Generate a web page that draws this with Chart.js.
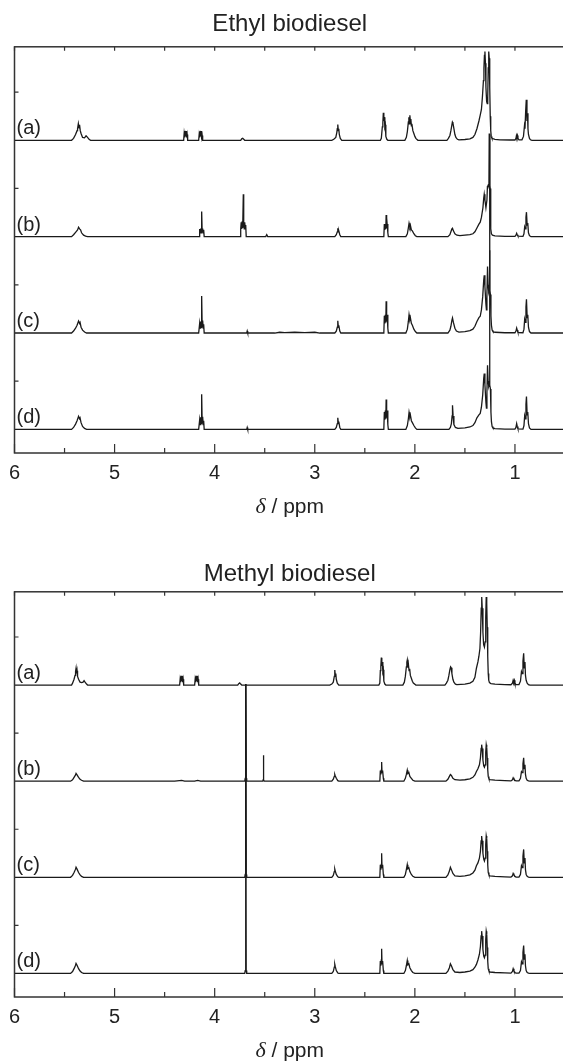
<!DOCTYPE html>
<html>
<head>
<meta charset="utf-8">
<title>Biodiesel 1H NMR</title>
<script src="https://cdn.jsdelivr.net/npm/chart.js@4.4.1/dist/chart.umd.min.js"></script>
<style>
  html, body { margin: 0; padding: 0; background: #fff; overflow: hidden; }
  .panel { position: absolute; left: 0; width: 563px; overflow: hidden; }
  #p1 { top: 0; height: 518px; }
  #p2 { top: 545px; height: 517px; }
</style>
</head>
<body>
<div class="panel" id="p1"><canvas id="grafEtil" width="575" height="518"></canvas></div>
<div class="panel" id="p2"><canvas id="grafMetil" width="575" height="517"></canvas></div>
<script>
// Espectros 1H RMN de biodiesel etilico y metilico
// cada punto: [ppm, intensidad]
var etiquetas = ['(a)', '(b)', '(c)', '(d)'];
var ejeX = [6, 5, 4, 3, 2, 1];
var marcasX = [6, 5.5, 5, 4.5, 4, 3.5, 3, 2.5, 2, 1.5, 1];
var marcasY = [50, 150, 250, 350];

var etilA = [[6.0,0],[5.43,0],[5.41,2],[5.39,6],[5.375,10],[5.37,12],[5.362,17.4],[5.355,13],[5.35,16],[5.343,10],[5.335,7],[5.32,3],[5.30,2.5],[5.285,4.6],[5.27,3],[5.255,1],[5.24,0],
  [4.31,0],[4.305,7],[4.30,3],[4.295,9.7],[4.29,4],[4.285,9.5],[4.28,3],[4.275,6],[4.27,0],
  [4.16,0],[4.155,6],[4.15,3],[4.145,9.7],[4.14,4],[4.135,9.5],[4.13,3],[4.125,5],[4.12,0],
  [3.74,0],[3.73,1.5],[3.72,2],[3.71,1],[3.70,0],
  [2.83,0],[2.81,1],[2.79,3],[2.78,8],[2.775,12],[2.77,16.3],[2.765,10],[2.76,12],[2.755,6],[2.745,2],[2.73,0],
  [2.345,0],[2.335,2],[2.325,14],[2.32,18],[2.315,28.5],[2.31,20],[2.305,24],[2.30,14],[2.295,16],[2.29,4],[2.28,1],[2.27,0],
  [2.10,0],[2.085,3],[2.075,9],[2.065,19],[2.06,24],[2.055,17],[2.05,26],[2.045,20],[2.04,22],[2.035,15],[2.03,17],[2.02,10],[2.01,7],[2.0,4],[1.99,2],[1.97,0],
  [1.68,0],[1.665,2],[1.65,5],[1.64,10],[1.63,16],[1.625,19],[1.62,18],[1.61,12],[1.60,6],[1.59,3],[1.575,1],[1.56,0.5],[1.50,0.8],[1.45,1.5],[1.42,3],[1.40,6],[1.38,12],[1.36,20],[1.347,26],[1.335,32],[1.325,45],[1.315,62],[1.31,75],[1.305,88],[1.30,92],[1.295,80],[1.29,55],[1.283,40],[1.277,38],[1.272,45],[1.267,75],[1.262,92],[1.257,85],[1.252,55],[1.247,25],[1.242,10],[1.237,4],[1.23,2],[1.20,1],[1.15,0.5],[1.05,0.3],
  [1.0,0.3],[0.99,2],[0.985,5],[0.98,3],[0.975,5],[0.97,2],[0.96,0.5],
  [0.93,0.5],[0.915,4],[0.905,15],[0.90,12],[0.893,30],[0.887,42],[0.88,20],[0.875,28],[0.87,12],[0.865,6],[0.855,2],[0.845,0.5],[0.83,0],[0.5,0]];

var etilB = [[6.0,0],[5.43,0],[5.41,2],[5.39,4.5],[5.37,7],[5.36,9.8],[5.35,8],[5.34,7],[5.33,4],[5.31,1.5],[5.29,0.5],[5.27,0],
  [4.155,0],[4.15,8],[4.145,4],[4.14,8.5],[4.135,4],[4.13,26],[4.125,5],[4.12,8.5],[4.115,4],[4.11,7],[4.105,0],
  [3.745,0],[3.74,8],[3.735,15],[3.73,8],[3.725,16],[3.72,9],[3.714,44],[3.71,15],[3.705,8],[3.70,15],[3.695,9],[3.69,12],[3.685,0],
  [3.49,0],[3.48,2],[3.47,0],
  [2.80,0],[2.785,2],[2.775,5],[2.77,8.7],[2.765,5],[2.76,6],[2.75,2],[2.74,0],
  [2.31,0],[2.305,13],[2.30,7],[2.295,13],[2.29,8],[2.287,22.5],[2.282,9],[2.277,13],[2.27,4],[2.265,0],
  [2.09,0],[2.075,3],[2.065,9],[2.058,13.8],[2.05,10],[2.045,12],[2.035,7],[2.025,6],[2.01,3],[1.995,1],[1.98,0],
  [1.67,0],[1.65,2],[1.64,5],[1.63,8],[1.624,8.7],[1.615,6],[1.60,3],[1.58,1.5],[1.55,1],[1.50,1.5],[1.45,2],[1.42,3],[1.40,5],[1.38,9],[1.36,13],[1.347,15],[1.335,20],[1.32,30],[1.312,40],[1.307,44],[1.30,38],[1.29,30],[1.28,38],[1.275,52],[1.27,53],[1.265,54],[1.26,52],[1.257,107],[1.252,53],[1.248,50],[1.244,20],[1.24,8],[1.235,3],[1.225,1.5],[1.20,0.8],[1.10,0.3],
  [1.0,0.3],[0.99,1.5],[0.983,3.5],[0.977,2],[0.97,0.5],
  [0.92,0.3],[0.91,3],[0.903,10],[0.897,8],[0.89,20],[0.885,25.4],[0.878,12],[0.872,14],[0.865,4],[0.855,1],[0.84,0],[0.5,0]];

var etilC = [[6.0,0],[5.43,0],[5.41,2],[5.39,5],[5.375,8],[5.36,12.5],[5.35,10],[5.345,11],[5.335,6],[5.32,3],[5.30,1],[5.28,0],
  [4.16,0],[4.15,10],[4.145,5],[4.14,12],[4.135,6],[4.13,38.5],[4.125,7],[4.12,13],[4.115,5],[4.11,9],[4.105,0],
  [3.68,0],[3.675,2],[3.67,0],
  [3.40,0],[3.35,0.8],[3.30,0.4],[3.20,0.8],[3.10,0.5],[3.0,0.8],[2.95,0],
  [2.80,0],[2.785,2],[2.775,6],[2.77,12.8],[2.765,7],[2.76,8],[2.75,2],[2.74,0],
  [2.31,0],[2.305,18],[2.30,10],[2.295,19],[2.29,11],[2.287,33],[2.282,12],[2.277,19],[2.27,5],[2.265,0],
  [2.09,0],[2.075,4],[2.065,12],[2.058,19],[2.05,14],[2.045,16],[2.035,10],[2.025,8],[2.01,4],[1.995,1.5],[1.98,0],
  [1.67,0],[1.65,3],[1.64,7],[1.63,13],[1.624,15.6],[1.615,11],[1.60,5],[1.585,2],[1.56,1],[1.50,1.5],[1.45,2.5],[1.42,4],[1.40,7],[1.38,12],[1.36,16],[1.347,17.4],[1.335,24],[1.322,38],[1.312,55],[1.307,60],[1.30,48],[1.29,30],[1.285,24],[1.28,40],[1.274,69],[1.268,50],[1.262,43],[1.257,45],[1.254,206],[1.25,44],[1.245,40],[1.24,18],[1.235,8],[1.228,3],[1.22,1.5],[1.20,0.8],[1.10,0.3],
  [1.0,0.3],[0.99,2],[0.983,5.2],[0.977,3],[0.97,0.5],
  [0.92,0.3],[0.91,4],[0.903,14],[0.897,11],[0.89,27],[0.885,35],[0.878,16],[0.872,19],[0.865,6],[0.855,1.5],[0.84,0],[0.5,0]];

var etilD = [[6.0,0],[5.43,0],[5.41,2],[5.39,5.5],[5.375,9],[5.36,13.5],[5.35,11],[5.345,12],[5.335,7],[5.32,3],[5.30,1],[5.28,0],
  [4.16,0],[4.15,10],[4.145,5],[4.14,12.5],[4.135,6],[4.13,36.5],[4.125,7],[4.12,13],[4.115,5],[4.11,9],[4.105,0],
  [3.68,0],[3.675,2],[3.67,0],
  [2.80,0],[2.785,2],[2.775,6],[2.77,12],[2.765,7],[2.76,8],[2.75,2],[2.74,0],
  [2.31,0],[2.305,18],[2.30,10],[2.295,19.5],[2.29,11],[2.287,31],[2.282,12],[2.277,19.5],[2.27,5],[2.265,0],
  [2.09,0],[2.075,4],[2.065,11],[2.058,17.7],[2.05,13],[2.045,15],[2.035,9],[2.025,7],[2.01,4],[1.995,1.5],[1.98,0],
  [1.66,0],[1.645,2],[1.635,6],[1.628,14],[1.624,25],[1.618,14],[1.61,5],[1.595,2],[1.57,1],[1.50,1.5],[1.45,2.5],[1.42,4],[1.40,7],[1.38,12],[1.36,15],[1.347,16.6],[1.335,23],[1.322,36],[1.312,53],[1.307,58],[1.30,46],[1.29,28],[1.285,22],[1.28,38],[1.274,66.5],[1.268,50],[1.262,45],[1.257,47],[1.254,186],[1.25,46],[1.245,42],[1.24,18],[1.235,8],[1.228,3],[1.22,1.5],[1.20,0.8],[1.10,0.3],
  [1.0,0.3],[0.99,2],[0.983,6],[0.977,3],[0.97,0.5],
  [0.92,0.3],[0.91,4],[0.903,14],[0.897,11],[0.89,26],[0.885,34],[0.878,15],[0.872,18],[0.865,6],[0.855,1.5],[0.84,0],[0.5,0]];

var metilA = [[6.0,0],[5.43,0],[5.42,2],[5.405,6],[5.395,10],[5.39,14],[5.385,17.4],[5.38,12],[5.375,15],[5.37,9],[5.36,6],[5.345,3],[5.33,2.5],[5.315,3],[5.305,4.5],[5.295,3],[5.28,1],[5.27,0],
  [4.35,0],[4.345,6],[4.34,3],[4.335,9.7],[4.33,4],[4.325,9.5],[4.32,3],[4.315,6],[4.31,0],
  [4.20,0],[4.195,6],[4.19,3],[4.185,9.7],[4.18,4],[4.175,9.5],[4.17,3],[4.165,6],[4.16,0],
  [3.77,0],[3.76,1.5],[3.75,2.2],[3.74,1],[3.73,0],
  [2.85,0],[2.83,1],[2.815,3],[2.805,9],[2.80,15.6],[2.795,10],[2.79,12],[2.785,6],[2.775,2],[2.76,0],
  [2.36,0],[2.35,2],[2.345,15],[2.34,19],[2.335,28.5],[2.33,20],[2.325,24],[2.32,14],[2.315,16],[2.31,4],[2.30,1],[2.29,0],
  [2.12,0],[2.105,3],[2.095,9],[2.085,19],[2.08,24],[2.076,26],[2.07,18],[2.065,22],[2.058,15],[2.052,17],[2.045,10],[2.035,7],[2.025,4],[2.015,2],[1.99,0],
  [1.70,0],[1.685,2],[1.67,5],[1.66,10],[1.65,16],[1.643,19],[1.637,18],[1.63,12],[1.62,6],[1.61,3],[1.595,1],[1.58,0.5],[1.50,1],[1.45,2],[1.42,4],[1.40,8],[1.385,17.5],[1.37,24],[1.36,30],[1.35,38],[1.343,55],[1.337,80],[1.332,91.5],[1.327,80],[1.32,55],[1.313,42],[1.305,39.5],[1.298,45],[1.292,70],[1.287,91.5],[1.282,85],[1.277,60],[1.272,30],[1.267,12],[1.262,5],[1.255,2.5],[1.24,1.5],[1.20,1],[1.10,0.5],
  [1.04,0.3],[1.025,2],[1.018,5],[1.012,3],[1.006,5],[1.0,2],[0.99,0.5],
  [0.96,0.5],[0.945,4],[0.935,14],[0.928,12],[0.92,25],[0.913,33],[0.907,18],[0.90,24],[0.895,10],[0.888,5],[0.878,2],[0.865,0.5],[0.85,0],[0.5,0]];

var metilB = [[6.0,0],[5.44,0],[5.42,1.5],[5.405,4],[5.39,6.5],[5.385,8],[5.375,6.5],[5.36,4],[5.345,2],[5.33,1],[5.31,0],
  [4.40,0],[4.33,0.8],[4.30,0],[4.20,0],[4.17,0.8],[4.14,0],
  [3.70,0],[3.695,3],[3.69,101],[3.685,3],[3.68,0],
  [3.52,0],[3.515,1.5],[3.513,27],[3.51,1.5],[3.505,0],
  [2.83,0],[2.815,2],[2.805,5],[2.80,7],[2.795,5.5],[2.785,3],[2.77,0.5],[2.76,0],
  [2.35,0],[2.345,11],[2.34,7],[2.335,11.5],[2.332,20],[2.328,9],[2.322,11],[2.315,3],[2.31,0],
  [2.11,0],[2.095,3],[2.085,7],[2.076,11.5],[2.07,8],[2.06,9],[2.05,5],[2.035,3],[2.02,1],[2.0,0],
  [1.69,0],[1.67,2],[1.655,5],[1.645,7],[1.635,6],[1.62,3],[1.60,1.5],[1.55,1],[1.50,1.5],[1.45,2.5],[1.42,4],[1.40,6.5],[1.385,10],[1.37,13],[1.355,17],[1.345,24],[1.338,34],[1.333,38],[1.328,34],[1.32,22],[1.312,16],[1.305,14.5],[1.298,17],[1.292,30],[1.287,38],[1.282,35],[1.277,24],[1.272,12],[1.267,5],[1.26,2.5],[1.25,1.5],[1.20,1],[1.10,0.5],
  [1.04,0.3],[1.025,1.5],[1.018,3.5],[1.01,2],[1.0,1],[0.99,0.3],
  [0.96,0.3],[0.945,3],[0.935,10],[0.928,9],[0.92,18],[0.913,24.3],[0.907,13],[0.90,17],[0.895,7],[0.888,3],[0.878,1],[0.865,0.3],[0.85,0],[0.5,0]];

var metilC = [[6.0,0],[5.44,0],[5.42,2],[5.405,5],[5.39,8.5],[5.385,10.4],[5.375,8.5],[5.36,5],[5.345,2.5],[5.33,1],[5.31,0],
  [3.70,0],[3.695,3],[3.69,201],[3.685,3],[3.68,0],
  [2.83,0],[2.815,2],[2.805,6],[2.80,8.6],[2.795,6.5],[2.785,3],[2.77,0.5],[2.76,0],
  [2.35,0],[2.345,13],[2.34,8],[2.335,13.5],[2.332,25],[2.328,10],[2.322,13],[2.315,3],[2.31,0],
  [2.11,0],[2.095,3],[2.085,8],[2.076,13.2],[2.07,9],[2.06,10],[2.05,6],[2.035,3],[2.02,1],[2.0,0],
  [1.69,0],[1.67,2.5],[1.655,6.5],[1.645,10.4],[1.635,8],[1.62,4],[1.60,1.5],[1.55,1],[1.50,1.5],[1.45,2.5],[1.42,4.5],[1.40,7.5],[1.385,12],[1.37,15],[1.355,20],[1.345,27],[1.338,38],[1.333,43],[1.328,38],[1.32,25],[1.312,19],[1.305,17],[1.298,20],[1.292,34],[1.287,43],[1.282,40],[1.277,27],[1.272,13],[1.267,5],[1.26,2.5],[1.25,1.5],[1.20,1],[1.10,0.5],
  [1.04,0.3],[1.025,1.5],[1.018,4],[1.01,2.5],[1.0,1],[0.99,0.3],
  [0.96,0.3],[0.945,3],[0.935,12],[0.928,10],[0.92,22],[0.913,29],[0.907,15],[0.90,20],[0.895,8],[0.888,3],[0.878,1],[0.865,0.3],[0.85,0],[0.5,0]];

var metilD = [[6.0,0],[5.44,0],[5.42,2],[5.405,5],[5.39,8.5],[5.385,10.4],[5.375,8.5],[5.36,5],[5.345,2.5],[5.33,1],[5.31,0],
  [3.70,0],[3.695,3],[3.69,301],[3.685,3],[3.68,0],
  [2.83,0],[2.815,2],[2.805,6.5],[2.80,9.4],[2.795,7],[2.785,3],[2.77,0.5],[2.76,0],
  [2.35,0],[2.345,13],[2.34,8],[2.335,14],[2.332,25.7],[2.328,10],[2.322,13],[2.315,3],[2.31,0],
  [2.11,0],[2.095,3],[2.085,8],[2.076,13.5],[2.07,9],[2.06,10],[2.05,6],[2.035,3],[2.02,1],[2.0,0],
  [1.69,0],[1.67,2.5],[1.655,6],[1.645,10],[1.635,8],[1.62,4],[1.60,1.5],[1.55,1],[1.50,1.5],[1.45,2.5],[1.42,4],[1.40,6.5],[1.385,9.4],[1.37,14],[1.355,20],[1.345,28],[1.338,39],[1.333,44],[1.328,39],[1.32,25],[1.312,18],[1.305,16.3],[1.298,19],[1.292,35],[1.287,44],[1.282,41],[1.277,27],[1.272,13],[1.267,5],[1.26,2.5],[1.25,1.5],[1.20,1],[1.10,0.5],
  [1.04,0.3],[1.025,2],[1.018,4.9],[1.01,2.5],[1.0,1],[0.99,0.3],
  [0.96,0.3],[0.945,3],[0.935,12],[0.928,10],[0.92,22],[0.913,29],[0.907,15],[0.90,20],[0.895,8],[0.888,3],[0.878,1],[0.865,0.3],[0.85,0],[0.5,0]];

var fuente = "'Liberation Sans', Arial, Helvetica, sans-serif";
var desplazamientos = [300, 200, 100, 0];

// Dibuja marco, marcas hacia adentro, etiquetas (a)-(d) y titulo del eje x
var marcoPlugin = {
    id: 'marco',
    afterDraw: function (chart) {
        var ctx = chart.ctx;
        var area = chart.chartArea;
        var sx = chart.scales.x;
        var sy = chart.scales.y;
        ctx.save();
        ctx.strokeStyle = '#333';
        ctx.lineWidth = 1.5;
        ctx.strokeRect(area.left, area.top, area.right - area.left, area.bottom - area.top);
        ctx.lineWidth = 1.2;
        ctx.beginPath();
        marcasX.forEach(function (v) {
            var px = sx.getPixelForValue(v);
            var largo = (v % 1 === 0) ? 9 : 5;
            ctx.moveTo(px, area.bottom);
            ctx.lineTo(px, area.bottom - largo);
            ctx.moveTo(px, area.top);
            ctx.lineTo(px, area.top + 4);
        });
        marcasY.forEach(function (v) {
            var py = sy.getPixelForValue(v);
            ctx.moveTo(area.left, py);
            ctx.lineTo(area.left + 4, py);
        });
        ctx.stroke();

        ctx.fillStyle = '#222';
        ctx.font = '20px ' + fuente;
        ctx.textAlign = 'left';
        ctx.textBaseline = 'alphabetic';
        etiquetas.forEach(function (t, i) {
            var py = sy.getPixelForValue(desplazamientos[i]);
            ctx.fillText(t, area.left + 2, py - 6);
        });

        // titulo del eje: delta en cursiva
        var yTit = area.bottom + 54;
        var parte1 = '\u03b4';
        var parte2 = ' / ppm';
        ctx.font = 'italic 22px "Liberation Serif", "Times New Roman", serif';
        var w1 = ctx.measureText(parte1).width;
        ctx.font = '21px ' + fuente;
        var w2 = ctx.measureText(parte2).width;
        var x0 = (area.left + area.right) / 2 - (w1 + w2) / 2;
        ctx.textBaseline = 'middle';
        ctx.font = 'italic 22px "Liberation Serif", "Times New Roman", serif';
        ctx.fillText(parte1, x0, yTit);
        ctx.font = '21px ' + fuente;
        ctx.fillText(parte2, x0 + w1, yTit);
        ctx.restore();
    }
};

function ArmarDatos(espectros) {
    return espectros.map(function (esp, i) {
        return {
            label: etiquetas[i],
            data: esp.map(function (p) { return { x: p[0], y: p[1] + desplazamientos[i] }; }),
            borderColor: '#1a1a1a',
            borderWidth: 1.3,
            pointRadius: 0,
            fill: false,
            tension: 0
        };
    });
}

function GenerarGrafico(idCanvas, titulo, espectros, padTitulo) {
    var ctx = document.getElementById(idCanvas).getContext('2d');
    return new Chart(ctx, {
        type: 'line',
        data: { datasets: ArmarDatos(espectros) },
        options: {
            responsive: false,
            animation: false,
            layout: { padding: { left: 14.5, right: 10, top: 0, bottom: 25 } },
            plugins: {
                legend: { display: false },
                tooltip: { enabled: false },
                title: {
                    display: true,
                    text: titulo,
                    color: '#222',
                    font: { family: fuente, size: 24, weight: 'normal' },
                    padding: padTitulo
                }
            },
            scales: {
                x: {
                    type: 'linear',
                    reverse: true,
                    min: 0.5,
                    max: 6,
                    afterBuildTicks: function (scale) {
                        scale.ticks = ejeX.map(function (v) { return { value: v }; });
                    },
                    grid: { display: false, drawTicks: false },
                    border: { display: false },
                    ticks: {
                        color: '#222',
                        font: { family: fuente, size: 20 },
                        padding: 8,
                        maxRotation: 0,
                        autoSkip: false
                    }
                },
                y: {
                    display: false,
                    min: -24.5,
                    max: 397
                }
            }
        },
        plugins: [marcoPlugin]
    });
}

GenerarGrafico('grafEtil', 'Ethyl biodiesel', [etilA, etilB, etilC, etilD], { top: 10, bottom: 8 });
GenerarGrafico('grafMetil', 'Methyl biodiesel', [metilA, metilB, metilC, metilD], { top: 15, bottom: 3 });
</script>
</body>
</html>
